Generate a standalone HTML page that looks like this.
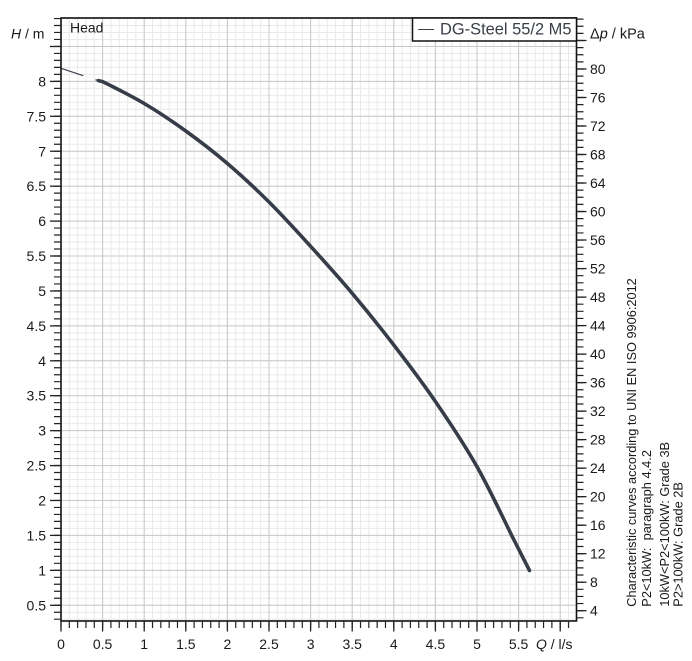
<!DOCTYPE html>
<html><head><meta charset="utf-8"><style>
html,body{margin:0;padding:0;background:#fff;}
svg{display:block;}
text{font-family:"Liberation Sans",Arial,sans-serif;fill:#1a1a1a;}
</style></head><body>
<svg width="692" height="661" viewBox="0 0 692 661" xmlns="http://www.w3.org/2000/svg">
<rect width="692" height="661" fill="#fff"/>
<!-- minor grid -->
<line x1="60.5" y1="319.5" x2="576" y2="319.5" stroke="#e9e9e9" stroke-width="603" stroke-dasharray="1 7.32"/>
<line x1="318.75" y1="619.7" x2="318.75" y2="18" stroke="#e9e9e9" stroke-width="515.5" stroke-dasharray="1 5.985"/>
<!-- major grid -->
<g stroke="#c8c8c8" stroke-width="1">
<line x1="102.6" y1="18" x2="102.6" y2="621"/>
<line x1="144.2" y1="18" x2="144.2" y2="621"/>
<line x1="185.8" y1="18" x2="185.8" y2="621"/>
<line x1="227.4" y1="18" x2="227.4" y2="621"/>
<line x1="269" y1="18" x2="269" y2="621"/>
<line x1="310.6" y1="18" x2="310.6" y2="621"/>
<line x1="352.2" y1="18" x2="352.2" y2="621"/>
<line x1="393.8" y1="18" x2="393.8" y2="621"/>
<line x1="435.4" y1="18" x2="435.4" y2="621"/>
<line x1="477" y1="18" x2="477" y2="621"/>
<line x1="518.6" y1="18" x2="518.6" y2="621"/>
<line x1="560.2" y1="18" x2="560.2" y2="621"/>
<line x1="61" y1="46.5" x2="576.5" y2="46.5"/>
<line x1="61" y1="81.4" x2="576.5" y2="81.4"/>
<line x1="61" y1="116.3" x2="576.5" y2="116.3"/>
<line x1="61" y1="151.25" x2="576.5" y2="151.25"/>
<line x1="61" y1="186.2" x2="576.5" y2="186.2"/>
<line x1="61" y1="221.1" x2="576.5" y2="221.1"/>
<line x1="61" y1="256" x2="576.5" y2="256"/>
<line x1="61" y1="291" x2="576.5" y2="291"/>
<line x1="61" y1="325.9" x2="576.5" y2="325.9"/>
<line x1="61" y1="360.8" x2="576.5" y2="360.8"/>
<line x1="61" y1="395.7" x2="576.5" y2="395.7"/>
<line x1="61" y1="430.65" x2="576.5" y2="430.65"/>
<line x1="61" y1="465.6" x2="576.5" y2="465.6"/>
<line x1="61" y1="500.5" x2="576.5" y2="500.5"/>
<line x1="61" y1="535.4" x2="576.5" y2="535.4"/>
<line x1="61" y1="570.35" x2="576.5" y2="570.35"/>
<line x1="61" y1="605.3" x2="576.5" y2="605.3"/>
</g>
<!-- curve -->
<line x1="61" y1="68.3" x2="83.3" y2="75.7" stroke="#3a414b" stroke-width="1.1"/>
<line x1="95.5" y1="79.7" x2="98" y2="80.5" stroke="#3a414b" stroke-width="1.2"/>
<path fill="none" stroke="#363d48" stroke-width="3.6" stroke-linecap="round" stroke-linejoin="round"
d="M98.5,80.6 L102.6,81.6
C110.47,85.48 130.33,95.27 144.2,103.5
C158.07,111.73 171.93,121 185.8,131
C199.67,141 213.53,151.67 227.4,163.5
C241.27,175.33 255.13,188.2 269,202
C282.87,215.8 296.73,231.08 310.6,246.3
C324.47,261.52 338.33,276.85 352.2,293.3
C366.07,309.75 379.93,326.97 393.8,345
C407.67,363.03 421.53,381.22 435.4,401.5
C449.27,421.78 463.9,443.62 477,466.7
C490.1,489.78 505.25,522.7 514,540
C522.75,557.3 526.92,565.42 529.5,570.5"/>
<!-- frame -->
<rect x="61" y="18" width="515.5" height="603" fill="none" stroke="#111" stroke-width="1.6"/>
<!-- minor ticks -->
<line x1="57.5" y1="619.8" x2="57.5" y2="18" stroke="#222" stroke-width="7" stroke-dasharray="1.2 5.785"/>
<line x1="60.4" y1="624.5" x2="576" y2="624.5" stroke="#222" stroke-width="7" stroke-dasharray="1.2 7.12"/>
<line x1="580" y1="618.4" x2="580" y2="18" stroke="#222" stroke-width="7" stroke-dasharray="1.2 5.9275"/>
<!-- major ticks -->
<g stroke="#222" stroke-width="1.3">
<line x1="50" y1="46.5" x2="61" y2="46.5"/>
<line x1="50" y1="81.4" x2="61" y2="81.4"/>
<line x1="50" y1="116.3" x2="61" y2="116.3"/>
<line x1="50" y1="151.25" x2="61" y2="151.25"/>
<line x1="50" y1="186.2" x2="61" y2="186.2"/>
<line x1="50" y1="221.1" x2="61" y2="221.1"/>
<line x1="50" y1="256" x2="61" y2="256"/>
<line x1="50" y1="291" x2="61" y2="291"/>
<line x1="50" y1="325.9" x2="61" y2="325.9"/>
<line x1="50" y1="360.8" x2="61" y2="360.8"/>
<line x1="50" y1="395.7" x2="61" y2="395.7"/>
<line x1="50" y1="430.65" x2="61" y2="430.65"/>
<line x1="50" y1="465.6" x2="61" y2="465.6"/>
<line x1="50" y1="500.5" x2="61" y2="500.5"/>
<line x1="50" y1="535.4" x2="61" y2="535.4"/>
<line x1="50" y1="570.35" x2="61" y2="570.35"/>
<line x1="50" y1="605.3" x2="61" y2="605.3"/>
<line x1="61" y1="621" x2="61" y2="631.5"/>
<line x1="102.6" y1="621" x2="102.6" y2="631.5"/>
<line x1="144.2" y1="621" x2="144.2" y2="631.5"/>
<line x1="185.8" y1="621" x2="185.8" y2="631.5"/>
<line x1="227.4" y1="621" x2="227.4" y2="631.5"/>
<line x1="269" y1="621" x2="269" y2="631.5"/>
<line x1="310.6" y1="621" x2="310.6" y2="631.5"/>
<line x1="352.2" y1="621" x2="352.2" y2="631.5"/>
<line x1="393.8" y1="621" x2="393.8" y2="631.5"/>
<line x1="435.4" y1="621" x2="435.4" y2="631.5"/>
<line x1="477" y1="621" x2="477" y2="631.5"/>
<line x1="518.6" y1="621" x2="518.6" y2="631.5"/>
<line x1="560.2" y1="621" x2="560.2" y2="631.5"/>
<line x1="576.5" y1="610.7" x2="586.5" y2="610.7"/>
<line x1="576.5" y1="582.2" x2="586.5" y2="582.2"/>
<line x1="576.5" y1="553.7" x2="586.5" y2="553.7"/>
<line x1="576.5" y1="525.2" x2="586.5" y2="525.2"/>
<line x1="576.5" y1="496.65" x2="586.5" y2="496.65"/>
<line x1="576.5" y1="468.1" x2="586.5" y2="468.1"/>
<line x1="576.5" y1="439.6" x2="586.5" y2="439.6"/>
<line x1="576.5" y1="411.1" x2="586.5" y2="411.1"/>
<line x1="576.5" y1="382.6" x2="586.5" y2="382.6"/>
<line x1="576.5" y1="354.1" x2="586.5" y2="354.1"/>
<line x1="576.5" y1="325.6" x2="586.5" y2="325.6"/>
<line x1="576.5" y1="297.1" x2="586.5" y2="297.1"/>
<line x1="576.5" y1="268.6" x2="586.5" y2="268.6"/>
<line x1="576.5" y1="240" x2="586.5" y2="240"/>
<line x1="576.5" y1="211.55" x2="586.5" y2="211.55"/>
<line x1="576.5" y1="183" x2="586.5" y2="183"/>
<line x1="576.5" y1="154.5" x2="586.5" y2="154.5"/>
<line x1="576.5" y1="126" x2="586.5" y2="126"/>
<line x1="576.5" y1="97.5" x2="586.5" y2="97.5"/>
<line x1="576.5" y1="69" x2="586.5" y2="69"/>
<line x1="576.5" y1="40.5" x2="586.5" y2="40.5"/>
</g>
<!-- left labels -->
<g font-size="14" text-anchor="end">
<text x="46" y="86.4">8</text>
<text x="46" y="121.3">7.5</text>
<text x="46" y="156.25">7</text>
<text x="46" y="191.2">6.5</text>
<text x="46" y="226.1">6</text>
<text x="46" y="261">5.5</text>
<text x="46" y="296">5</text>
<text x="46" y="330.9">4.5</text>
<text x="46" y="365.8">4</text>
<text x="46" y="400.7">3.5</text>
<text x="46" y="435.65">3</text>
<text x="46" y="470.6">2.5</text>
<text x="46" y="505.5">2</text>
<text x="46" y="540.4">1.5</text>
<text x="46" y="575.35">1</text>
<text x="46" y="610.3">0.5</text>
</g>
<text x="11" y="38.5" font-size="14"><tspan font-style="italic">H</tspan> / m</text>
<!-- bottom labels -->
<g font-size="14" text-anchor="middle">
<text x="61" y="649">0</text>
<text x="102.6" y="649">0.5</text>
<text x="144.2" y="649">1</text>
<text x="185.8" y="649">1.5</text>
<text x="227.4" y="649">2</text>
<text x="269" y="649">2.5</text>
<text x="310.6" y="649">3</text>
<text x="352.2" y="649">3.5</text>
<text x="393.8" y="649">4</text>
<text x="435.4" y="649">4.5</text>
<text x="477" y="649">5</text>
<text x="518.6" y="649">5.5</text>
</g>
<text x="536" y="649" font-size="14"><tspan font-style="italic">Q</tspan> / l/s</text>
<!-- right labels -->
<g font-size="14">
<text x="590" y="615.7">4</text>
<text x="590" y="587.2">8</text>
<text x="590" y="558.7">12</text>
<text x="590" y="530.2">16</text>
<text x="590" y="501.65">20</text>
<text x="590" y="473.1">24</text>
<text x="590" y="444.6">28</text>
<text x="590" y="416.1">32</text>
<text x="590" y="387.6">36</text>
<text x="590" y="359.1">40</text>
<text x="590" y="330.6">44</text>
<text x="590" y="302.1">48</text>
<text x="590" y="273.6">52</text>
<text x="590" y="245">56</text>
<text x="590" y="216.55">60</text>
<text x="590" y="188">64</text>
<text x="590" y="159.5">68</text>
<text x="590" y="131">72</text>
<text x="590" y="102.5">76</text>
<text x="590" y="74">80</text>
</g>
<text x="590" y="38.5" font-size="14.5">Δ<tspan font-style="italic">p</tspan> / kPa</text>
<!-- head -->
<text x="70" y="32.3" font-size="14">Head</text>
<!-- legend -->
<rect x="412.5" y="18" width="164" height="23" fill="#fff" stroke="#111" stroke-width="1.5"/>
<line x1="418.3" y1="29.5" x2="434" y2="29.5" stroke="#3a3f47" stroke-width="1"/>
<text x="440" y="34.5" font-size="16.5" style="fill:#3a3f47" textLength="131.5" lengthAdjust="spacingAndGlyphs">DG-Steel 55/2 M5</text>
<!-- rotated notes -->
<g font-size="12.8">
<text transform="translate(636,606.7) rotate(-90)" textLength="328.5" lengthAdjust="spacingAndGlyphs">Characteristic curves according to UNI EN ISO 9906:2012</text>
<text transform="translate(651,606.7) rotate(-90)" xml:space="preserve">P2&lt;10kW:  paragraph 4.4.2</text>
<text transform="translate(669,606.7) rotate(-90)">10kW&lt;P2&lt;100kW: Grade 3B</text>
<text transform="translate(682.5,606.7) rotate(-90)">P2&gt;100kW: Grade 2B</text>
</g>
</svg>
</body></html>
